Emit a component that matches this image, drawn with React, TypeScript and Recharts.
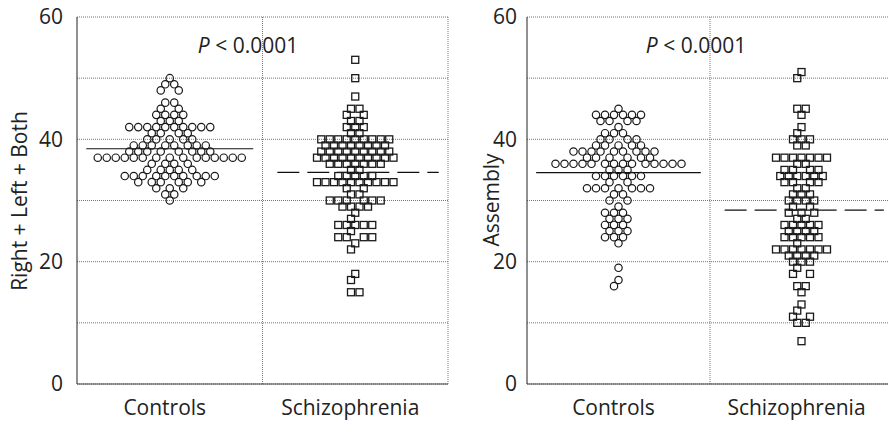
import { ScatterChart, Scatter, XAxis, YAxis, CartesianGrid, ReferenceLine } from "recharts";

// each row: [score, number of subjects with that score]
const handControls: [number, number][] = [
  [50, 1], [49, 2], [48, 2], [46, 2], [45, 2], [44, 4], [43, 3], [42, 10], [41, 4], [40, 5],
  [39, 8], [38, 8], [37, 15], [36, 4], [35, 5], [34, 10], [33, 6], [32, 3], [31, 2], [30, 1],
];
const handSchizo: [number, number][] = [
  [53, 1], [50, 1], [47, 1], [45, 2], [44, 2], [43, 2], [42, 3], [41, 2], [40, 9], [39, 8],
  [38, 9], [37, 10], [36, 7], [35, 2], [34, 5], [33, 10], [32, 2], [31, 2], [30, 6], [29, 4],
  [28, 1], [27, 1], [26, 5], [25, 1], [24, 4], [23, 1], [22, 1], [18, 1], [17, 1], [15, 2],
];
const assemblyControls: [number, number][] = [
  [45, 1], [44, 6], [43, 4], [42, 1], [41, 3], [40, 4], [39, 5], [38, 9], [37, 6], [36, 14],
  [35, 3], [34, 6], [33, 2], [32, 7], [31, 2], [30, 2], [29, 1], [28, 3], [27, 3], [26, 3],
  [25, 3], [24, 3], [23, 1], [19, 1], [17, 1], [16, 1],
];
const assemblySchizo: [number, number][] = [
  [51, 1], [50, 1], [45, 2], [44, 1], [42, 1], [41, 1], [40, 3], [39, 2], [37, 7], [36, 2],
  [35, 4], [34, 6], [33, 4], [32, 2], [31, 3], [30, 4], [29, 2], [28, 3], [27, 2], [26, 5],
  [25, 4], [24, 5], [23, 1], [22, 7], [21, 4], [20, 3], [19, 1], [18, 2], [16, 2], [15, 1],
  [13, 1], [12, 1], [11, 2], [10, 2], [7, 1],
];

const categories = ["Controls", "Schizophrenia"];
const yTicks = [0, 10, 20, 30, 40, 50, 60];
const pValue = "< 0.0001";

const FONT = "'Open Sans', sans-serif";
const TEXT = "#222";
const GRID = "#777";
const CIRCLE_STEP = 9;
const SQUARE_STEP = 8.5;

type Pt = { x: number; y: number };

// simple beeswarm: each score is a row, slots are half a marker apart,
// a slot is refused if the row above/below already uses it
function swarm(rows: [number, number][], center: number, half: number): Pt[] {
  const taken = new Map<number, number[]>();
  const out: Pt[] = [];
  const sorted = [...rows].sort((a, b) => b[0] - a[0]);
  for (const [v, n] of sorted) {
    const near = [...(taken.get(v - 1) || []), ...(taken.get(v + 1) || [])];
    const mine: number[] = [];
    const ok = (s: number) => !near.includes(s) && mine.every((m) => Math.abs(m - s) >= 2);
    if (n % 2 === 1 && ok(0)) mine.push(0);
    for (let s = 1; mine.length < n && s < 100; s++) {
      if (n - mine.length >= 2) {
        if (ok(s) && ok(-s)) mine.push(-s, s);
      } else if (ok(-s)) mine.push(-s);
      else if (ok(s)) mine.push(s);
    }
    taken.set(v, mine);
    mine.forEach((s) => out.push({ x: center + s * half, y: v }));
  }
  return out;
}

function mean(rows: [number, number][]) {
  let s = 0;
  let n = 0;
  rows.forEach(([v, c]) => {
    s += v * c;
    n += c;
  });
  return s / n;
}

const Ring = (p: any) => (
  <circle cx={p.cx} cy={p.cy} r={3.7} fill="none" stroke="#1a1a1a" strokeWidth={1.2} />
);
const Box = (p: any) => (
  <rect x={p.cx - 3.5} y={p.cy - 3.5} width={7} height={7} fill="none" stroke="#1a1a1a" strokeWidth={1.3} />
);

interface PanelProps {
  left: number;
  width: number;
  axisW: number;
  marginRight: number;
  labelGap: number;
  controls: [number, number][];
  schizo: [number, number][];
}

function Panel({ left, width, axisW, marginRight, labelGap, controls, schizo }: PanelProps) {
  const plotW = width - axisW - marginRight;
  const pxPerUnit = plotW / 2;
  const ctrl = swarm(controls, 0.5, CIRCLE_STEP / 2 / pxPerUnit);
  const scz = swarm(schizo, 1.5, SQUARE_STEP / 2 / pxPerUnit);
  const mC = mean(controls);
  const mS = mean(schizo);

  const YTick = ({ x, y, payload }: any) =>
    payload.value % 20 === 0 ? (
      <text x={x - labelGap} y={y} dy="0.35em" textAnchor="end" fill={TEXT} fontSize={21} fontFamily={FONT}>
        {payload.value}
      </text>
    ) : null;

  const XTick = ({ x, y, payload }: any) => (
    <text x={x - 5} y={y + 31} textAnchor="middle" fill={TEXT} fontSize={21} fontFamily={FONT}>
      {categories[Math.floor(payload.value)]}
    </text>
  );

  return (
    <div style={{ position: "absolute", left, top: 0 }}>
      <ScatterChart width={width} height={421} margin={{ top: 17, right: marginRight, bottom: 0, left: 0 }}>
        <CartesianGrid vertical={false} stroke={GRID} strokeDasharray="1 1" />
        <XAxis
          type="number"
          dataKey="x"
          domain={[0, 2]}
          ticks={[0.5, 1.5]}
          interval={0}
          height={37}
          axisLine={{ stroke: "#444" }}
          tickLine={false}
          tickSize={0}
          tickMargin={0}
          tick={XTick}
        />
        <YAxis
          type="number"
          dataKey="y"
          domain={[0, 60]}
          ticks={yTicks}
          interval={0}
          width={axisW}
          axisLine={{ stroke: "#222" }}
          tickLine={false}
          tickSize={0}
          tickMargin={0}
          tick={YTick}
        />
        <ReferenceLine x={1} stroke={GRID} strokeDasharray="1 1" />
        <ReferenceLine x={2} stroke={GRID} strokeDasharray="1 1" />
        <Scatter data={ctrl} shape={Ring} isAnimationActive={false} />
        <Scatter data={scz} shape={Box} isAnimationActive={false} />
        <ReferenceLine segment={[{ x: 0.05, y: mC }, { x: 0.95, y: mC }]} stroke="#111" strokeWidth={1.2} />
        <ReferenceLine
          segment={[{ x: 1.08, y: mS }, { x: 1.95, y: mS }]}
          stroke="#111"
          strokeWidth={1.2}
          strokeDasharray="22 8"
        />
      </ScatterChart>
    </div>
  );
}

export default function App() {
  return (
    <div
      style={{
        position: "absolute",
        left: 0,
        top: 0,
        width: 888,
        height: 421,
        overflow: "hidden",
        background: "#fff",
      }}
    >
      <Panel left={0} width={460} axisW={77} marginRight={12} labelGap={14} controls={handControls} schizo={handSchizo} />
      <Panel left={470} width={430} axisW={57} marginRight={7} labelGap={10} controls={assemblyControls} schizo={assemblySchizo} />
      <svg width={888} height={421} style={{ position: "absolute", left: 0, top: 0, pointerEvents: "none" }}>
        <g fontFamily={FONT} fontSize={21} fill={TEXT}>
          <text x={248} y={53} textAnchor="middle">
            <tspan fontStyle="italic">P</tspan> {pValue}
          </text>
          <text x={696} y={53} textAnchor="middle">
            <tspan fontStyle="italic">P</tspan> {pValue}
          </text>
          <text x={27} y={201} textAnchor="middle" transform="rotate(-90 27 201)">
            Right + Left + Both
          </text>
          <text x={499} y={200} textAnchor="middle" transform="rotate(-90 499 200)">
            Assembly
          </text>
        </g>
      </svg>
    </div>
  );
}
